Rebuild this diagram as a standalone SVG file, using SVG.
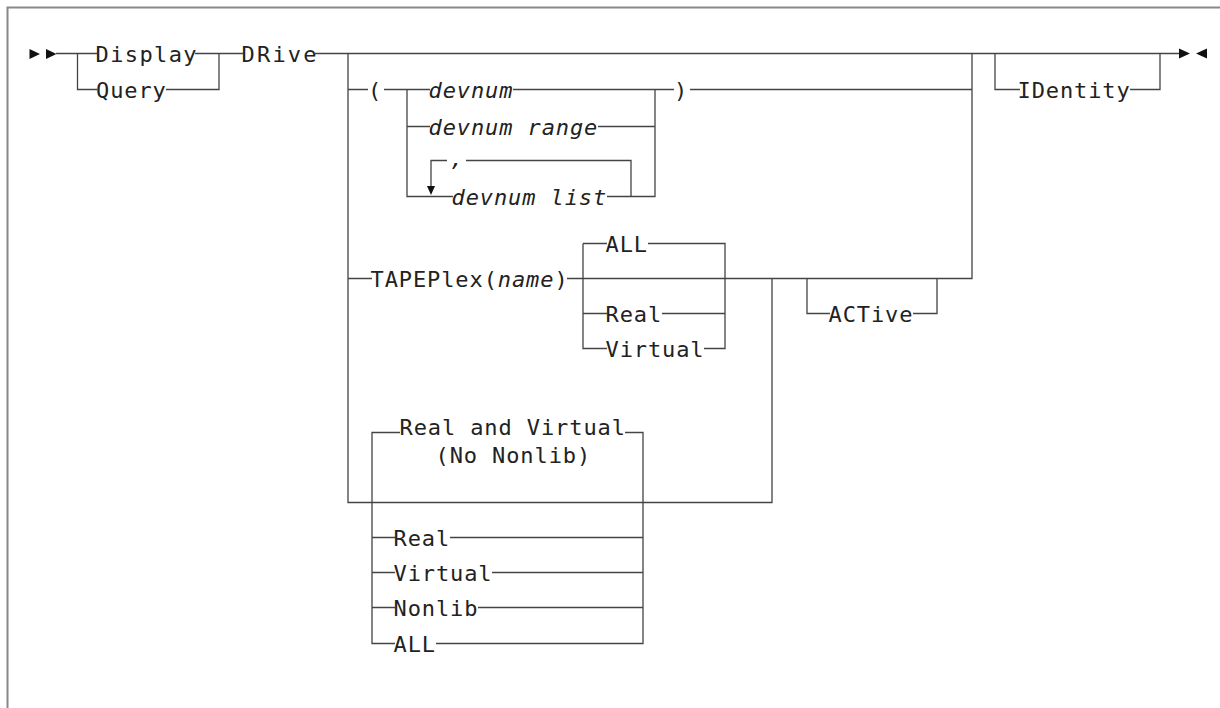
<svg xmlns="http://www.w3.org/2000/svg" width="1220" height="708" viewBox="0 0 1220 708">
<style>
.t{font-family:"DejaVu Sans Mono","Liberation Mono",monospace;font-size:22px;letter-spacing:0.9px;fill:#222}
.i{font-style:italic}
.c{fill:none;stroke:#444;stroke-width:1.3}
.a{fill:#111}
</style>
<rect width="1220" height="708" fill="#fff"/>
<path d="M7.5 708 V7.5 H1220" fill="none" stroke="#888" stroke-width="2"/>
<g id="connectors">
<polygon class="a" points="29.5,49 40,54 29.5,59"/>
<polygon class="a" points="46,49 56.5,54 46,59"/>
<path class="c" d="M56 53.5 H97 M77.5 53.5 V89.5 H97 M195 53.5 H219 V89.5 H166 M219 53.5 H243 M315 53.5 H1180"/>
<polygon class="a" points="1179,48.5 1190,53.5 1179,58.5"/>
<polygon class="a" points="1207,48.5 1196,53.5 1207,58.5"/>
<path class="c" d="M348 53.5 V502.5 H772 V278.5"/>
<path class="c" d="M348 89.5 H368 M384 89.5 H430 M407 89.5 V196.5 H453 M407 126.5 H430 M513 89.5 H655 V196.5 H607 M598 126.5 H655 M655 89.5 H674 M690 89.5 H972"/>
<path class="c" d="M466 160.5 H631 V196.5 M431 187 V160.5 H447"/>
<polygon class="a" points="427,186 435,186 431,195"/>
<path class="c" d="M348 278.5 H372 M567 278.5 H972 V53.5 M583 243.5 V348.5 H607 M583 243.5 H607 M583 313.5 H607 M648 243.5 H725 V348.5 H704 M662 313.5 H725"/>
<path class="c" d="M807 278.5 V313.5 H830 M913 313.5 H937 V278.5"/>
<path class="c" d="M995 53.5 V89.5 H1020 M1130 89.5 H1160 V53.5"/>
<path class="c" d="M400 432.5 H372 V643.5 H395 M372 537.5 H395 M372 572.5 H395 M372 607.5 H395 M625 432.5 H643 V643.5 H436 M450 537.5 H643 M492 572.5 H643 M478 607.5 H643"/>
</g>
<g id="n-display"><text class="t" x="95.5" y="62" style="letter-spacing:1.4px">Display</text></g>
<g id="n-query"><text class="t" x="96" y="98">Query</text></g>
<g id="n-drive"><text class="t" x="241.5" y="62" style="letter-spacing:2.2px">DRive</text></g>
<g id="n-lparen"><text class="t" x="368" y="98">(</text></g>
<g id="n-devnum"><text class="t i" x="428.5" y="98">devnum</text></g>
<g id="n-devnum-range"><text class="t i" x="428.5" y="135">devnum range</text></g>
<g id="n-comma"><text class="t i" x="450" y="166">,</text></g>
<g id="n-devnum-list"><text class="t i" x="451.5" y="205">devnum list</text></g>
<g id="n-rparen"><text class="t" x="674" y="98">)</text></g>
<g id="n-tapeplex"><text class="t" x="370.5" y="287">TAPEPlex(<tspan class="i">name</tspan>)</text></g>
<g id="n-all1"><text class="t" x="605.5" y="252">ALL</text></g>
<g id="n-real1"><text class="t" x="605.5" y="322">Real</text></g>
<g id="n-virtual1"><text class="t" x="605.5" y="357">Virtual</text></g>
<g id="n-active"><text class="t" x="828.5" y="322">ACTive</text></g>
<g id="n-identity"><text class="t" x="1017.5" y="98">IDentity</text></g>
<g id="n-realvirt"><text class="t" x="399.5" y="435">Real and Virtual</text><text class="t" x="435.5" y="463">(No Nonlib)</text></g>
<g id="n-real2"><text class="t" x="393.5" y="546">Real</text></g>
<g id="n-virtual2"><text class="t" x="393.5" y="581">Virtual</text></g>
<g id="n-nonlib"><text class="t" x="393.5" y="616">Nonlib</text></g>
<g id="n-all2"><text class="t" x="393.5" y="652">ALL</text></g>
</svg>
